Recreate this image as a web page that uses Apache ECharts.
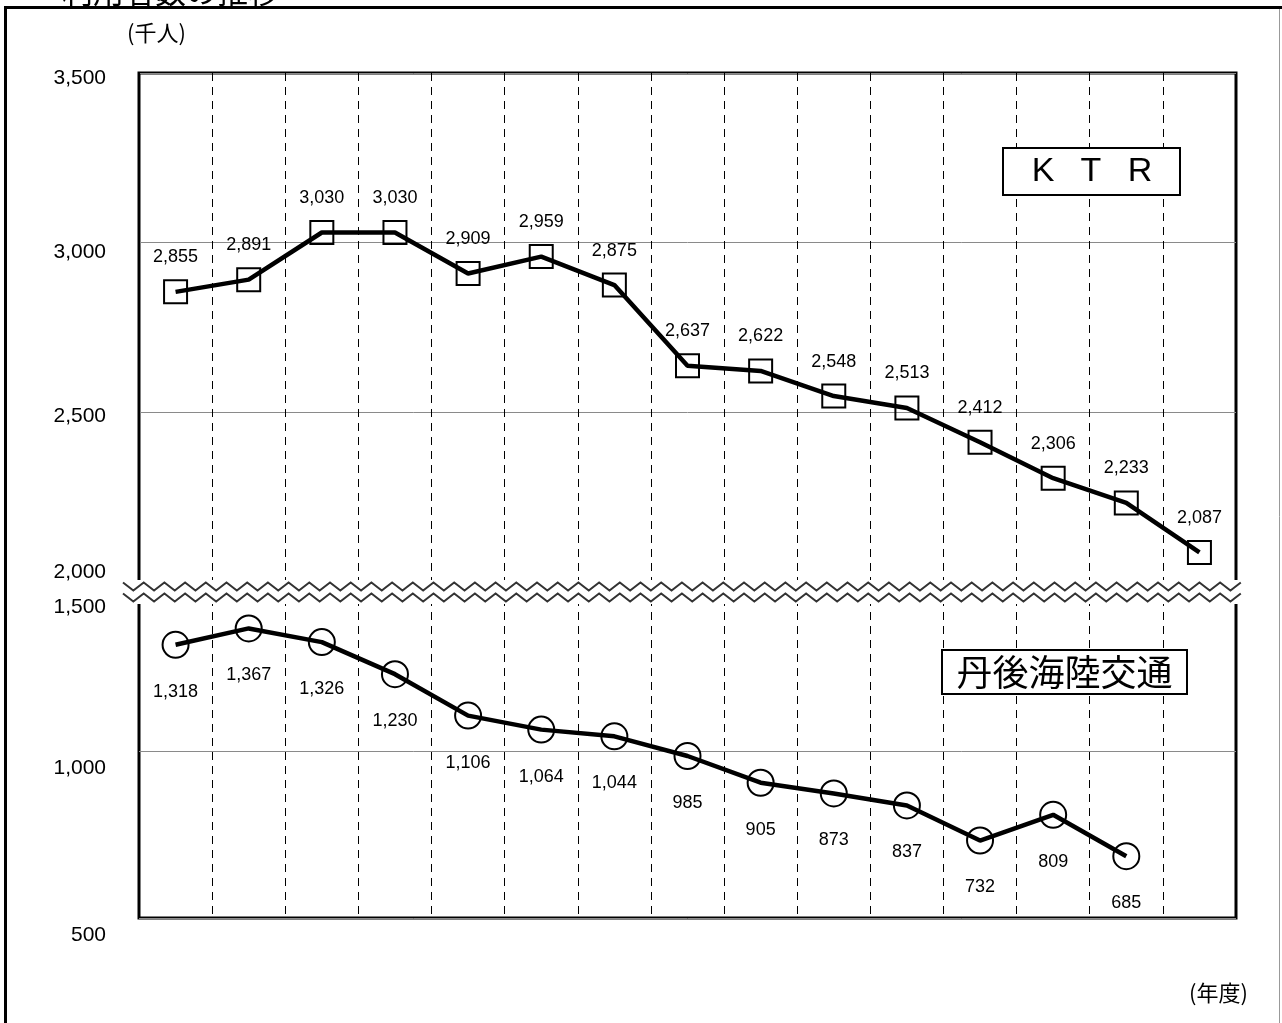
<!DOCTYPE html>
<html><head><meta charset="utf-8">
<script src="https://cdn.jsdelivr.net/npm/echarts@6/dist/echarts.min.js"></script>
<style>html,body{margin:0;padding:0;background:#fff}#c{width:1282px;height:1023px}</style>
</head><body><div id="c"></div>
<script>
// ---- data ----
const categories = ['1','2','3','4','5','6','7','8','9','10','11','12','13','14','15'];
const ktrValues = [2855, 2891, 3030, 3030, 2909, 2959, 2875, 2637, 2622, 2548, 2513, 2412, 2306, 2233, 2087];
const tangoValues = [1318, 1367, 1326, 1230, 1106, 1064, 1044, 985, 905, 873, 837, 732, 809, 685];
const upperTicks = [2000, 2500, 3000, 3500];
const lowerTicks = [500, 1000, 1500];
const ktrName = 'K T R';
const tangoName = '丹後海陸交通';

// ---- helpers ----
const fmt = v => String(v).replace(/\B(?=(\d{3})+(?!\d))/g, ',');
const NUM_FONT = "'Liberation Sans', Arial, sans-serif";
// vertical nudges of axis labels (px, + = down)
const labelShift = {3500: 5, 3000: 10, 2500: 4, 2000: -10, 1500: 23, 1000: 17, 500: 17};
function axisLabelFmt(v) {
  const s = labelShift[v] || 0;
  const t = '{v|' + fmt(v) + '}';
  if (s > 0) return '{s' + s + '| }\n' + t;
  if (s < 0) return t + '\n{s' + (-s) + '| }';
  return t;
}
const rich = {v: {fontSize: 21, fontFamily: NUM_FONT, color: '#000', lineHeight: 24}};
Object.values(labelShift).forEach(s => { const a = Math.abs(s); rich['s' + a] = {lineHeight: 2 * a, fontSize: 1}; });

// zigzag break decoration
function zigzag(yTop, yBot, x0, x1, step) {
  const pts = []; let up = true;
  for (let x = x0; x <= x1; x += step) { pts.push([x, up ? yTop : yBot]); up = !up; }
  return pts;
}

const chart = echarts.init(document.getElementById('c'));
const yBase = {
  type: 'value', interval: 500,
  axisLine: {show: false}, axisTick: {show: false},
  splitLine: {show: true, lineStyle: {color: '#8a8a8a', width: 1}},
  axisLabel: {margin: 33, formatter: axisLabelFmt, rich: rich}
};
const xBase = {
  type: 'category', data: categories, boundaryGap: true,
  axisLine: {show: false}, axisTick: {show: false}, axisLabel: {show: false},
  splitLine: {show: true, lineStyle: {color: '#000', width: 1, type: [8, 6]}}
};

chart.setOption({
  animation: false,
  backgroundColor: '#fff',
  grid: [
    {left: 139, right: 46, top: 73, height: 509, show: true, borderColor: '#000', borderWidth: 3, backgroundColor: 'transparent'},
    {left: 139, right: 46, top: 584, height: 334, show: true, borderColor: '#000', borderWidth: 3, backgroundColor: 'transparent'}
  ],
  xAxis: [Object.assign({gridIndex: 0}, xBase), Object.assign({gridIndex: 1}, xBase)],
  yAxis: [
    Object.assign({gridIndex: 0, min: 2000, max: 3500}, yBase),
    Object.assign({gridIndex: 1, min: 500, max: 1500}, yBase)
  ],
  series: [
    {
      name: ktrName, type: 'line', xAxisIndex: 0, yAxisIndex: 0, data: ktrValues,
      symbol: 'rect', symbolSize: 23,
      lineStyle: {color: '#000', width: 4.5},
      itemStyle: {color: 'rgba(0,0,0,0)', borderColor: '#000', borderWidth: 2},
      label: {show: true, position: 'top', distance: 13, color: '#000', fontSize: 18, fontFamily: NUM_FONT, formatter: p => fmt(p.value)},
      emphasis: {disabled: true}
    },
    {
      name: tangoName, type: 'line', xAxisIndex: 1, yAxisIndex: 1, data: tangoValues,
      symbol: 'circle', symbolSize: 26,
      lineStyle: {color: '#000', width: 4.5},
      itemStyle: {color: 'rgba(0,0,0,0)', borderColor: '#000', borderWidth: 2},
      label: {show: true, position: 'bottom', distance: 24, color: '#000', fontSize: 18, fontFamily: NUM_FONT, formatter: p => fmt(p.value)},
      emphasis: {disabled: true}
    }
  ],
  graphic: [
    // outer frame
    {type: 'line', z: 200, shape: {x1: 5.5, y1: 7.5, x2: 5.5, y2: 1030}, style: {stroke: '#000', lineWidth: 3}},
    {type: 'line', z: 200, shape: {x1: 4, y1: 7.5, x2: 1282, y2: 7.5}, style: {stroke: '#000', lineWidth: 3}},
    {type: 'line', z: 200, shape: {x1: 1279.5, y1: 9, x2: 1279.5, y2: 1030}, style: {stroke: '#999', lineWidth: 1}},
    // cut-off title
    {type: 'text', z: 200, x: 62, y: -9, style: {text: '利用者数の推移', font: "31px 'Noto Sans CJK JP', sans-serif", fill: '#000', textVerticalAlign: 'middle'}},
    // unit labels
    {type: 'text', z: 200, x: 127, y: 33, style: {text: '(千人)', font: "22px 'Noto Sans CJK JP', sans-serif", fill: '#000', textVerticalAlign: 'middle'}},
    {type: 'text', z: 200, x: 1189, y: 993, style: {text: '(年度)', font: "22px 'Noto Sans CJK JP', sans-serif", fill: '#000', textVerticalAlign: 'middle'}},
    // axis break band
    {type: 'rect', z: 150, shape: {x: 123, y: 580, width: 1122, height: 24}, style: {fill: '#fff'}},
    {type: 'polyline', z: 151, shape: {points: zigzag(582.5, 590.5, 123, 1245, 10.35)}, style: {stroke: '#333', lineWidth: 2, fill: null}},
    {type: 'polyline', z: 151, shape: {points: zigzag(593.5, 601.5, 123, 1245, 10.35)}, style: {stroke: '#333', lineWidth: 2, fill: null}},
    // series name boxes
    {type: 'rect', z: 160, shape: {x: 1003, y: 148, width: 177, height: 47}, style: {fill: '#fff', stroke: '#000', lineWidth: 2}},
    {type: 'text', z: 161, x: 1043, y: 172, style: {text: ktrName.split(' ')[0], font: "34px 'Liberation Sans Narrow', 'Liberation Sans', sans-serif", fill: '#000', textAlign: 'center', textVerticalAlign: 'middle'}},
    {type: 'text', z: 161, x: 1091, y: 172, style: {text: ktrName.split(' ')[1], font: "34px 'Liberation Sans Narrow', 'Liberation Sans', sans-serif", fill: '#000', textAlign: 'center', textVerticalAlign: 'middle'}},
    {type: 'text', z: 161, x: 1140, y: 172, style: {text: ktrName.split(' ')[2], font: "34px 'Liberation Sans Narrow', 'Liberation Sans', sans-serif", fill: '#000', textAlign: 'center', textVerticalAlign: 'middle'}},
    {type: 'rect', z: 160, shape: {x: 942, y: 650, width: 245, height: 44}, style: {fill: '#fff', stroke: '#000', lineWidth: 2}},
    {type: 'text', z: 161, x: 1064.5, y: 672, style: {text: tangoName, font: "36px 'Noto Sans CJK JP', sans-serif", fill: '#000', textAlign: 'center', textVerticalAlign: 'middle'}}
  ]
});
</script>
</body></html>
